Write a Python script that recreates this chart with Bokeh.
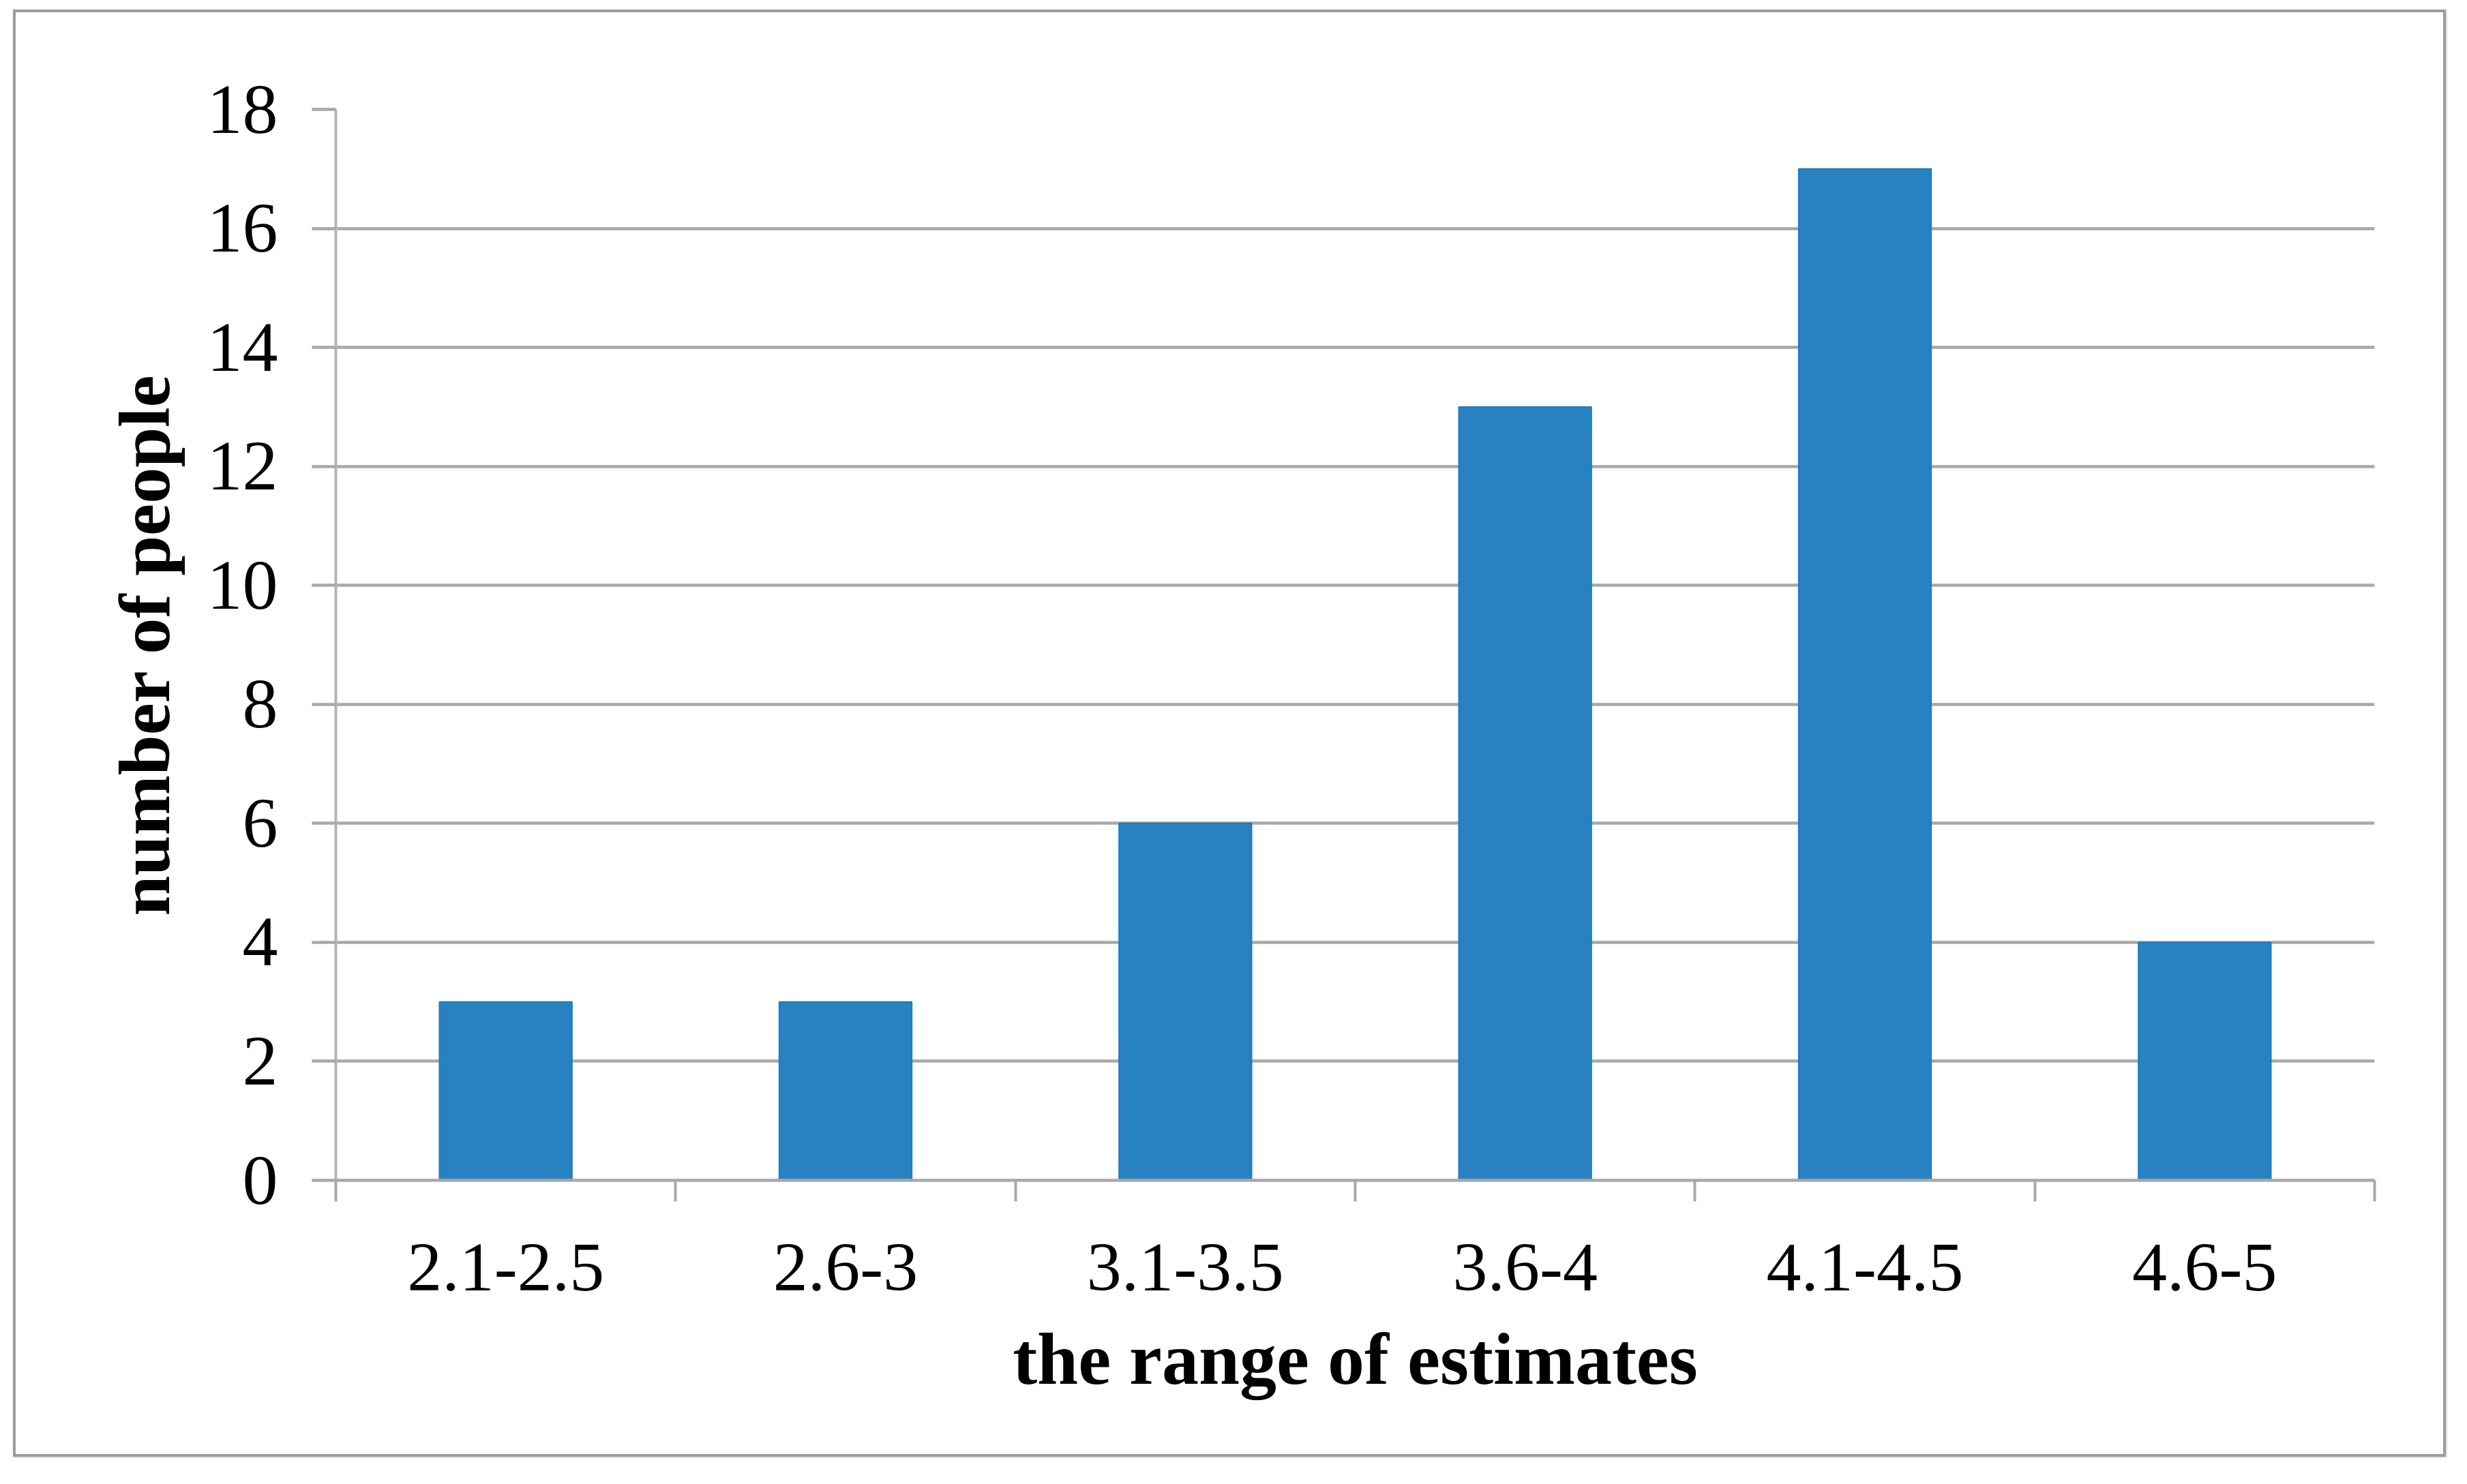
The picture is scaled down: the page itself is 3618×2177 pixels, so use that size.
from bokeh.plotting import figure
from bokeh.models import Range1d, FixedTicker, ColumnDataSource
from bokeh.embed import file_html
from bokeh.resources import INLINE

# ---- data ----
categories = ["2.1-2.5", "2.6-3", "3.1-3.5", "3.6-4", "4.1-4.5", "4.6-5"]
counts = [3, 3, 6, 13, 17, 4]
y_ticks = [0, 2, 4, 6, 8, 10, 12, 14, 16, 18]
x_title = "the range of estimates"
y_title = "number of people"

x_pos = [i + 0.5 for i in range(len(categories))]
source = ColumnDataSource(dict(x=x_pos, top=counts, cat=categories))

FONT = "Liberation Serif"
GRID = "#a8a8a8"

p = figure(width=3568, height=2123, output_backend="svg", toolbar_location=None,
           x_range=Range1d(0, len(categories)), y_range=Range1d(0, y_ticks[-1]),
           min_border_left=469, min_border_right=109,
           min_border_top=142, min_border_bottom=410)
p.margin = (14, 0, 0, 19)
p.styles = {"border": "4px solid #9c9c9c", "box-shadow": "1px 1px 3px #c8c8c8"}
p.outline_line_color = None
p.background_fill_color = "white"
p.border_fill_color = "white"

p.vbar(x="x", top="top", width=0.39, bottom=0, source=source,
       fill_color="#2882c2", line_color="#1f7bbd", line_width=2)

# y axis
p.yaxis.ticker = FixedTicker(ticks=y_ticks)
p.ygrid.ticker = FixedTicker(ticks=y_ticks)
p.ygrid.grid_line_color = GRID
p.ygrid.grid_line_width = 4.5
p.yaxis.axis_line_color = "#b4b4b4"
p.yaxis.axis_line_width = 4
p.yaxis.major_tick_line_color = GRID
p.yaxis.major_tick_line_width = 4.5
p.yaxis.major_tick_out = 35
p.yaxis.major_tick_in = 0
p.yaxis.minor_tick_line_color = None
p.yaxis.major_label_text_font = FONT
p.yaxis.major_label_text_font_size = "104px"
p.yaxis.major_label_text_color = "black"
p.yaxis.major_label_standoff = 50
p.yaxis.axis_label = y_title
p.yaxis.axis_label_text_font = FONT
p.yaxis.axis_label_text_font_style = "bold"
p.yaxis.axis_label_text_font_size = "106px"
p.yaxis.axis_label_text_color = "black"
p.yaxis.axis_label_standoff = 30

# x axis
p.xgrid.visible = False
p.xaxis.ticker = FixedTicker(ticks=x_pos, minor_ticks=list(range(len(categories) + 1)))
p.xaxis.major_label_overrides = {x: c for x, c in zip(x_pos, categories)}
p.xaxis.axis_line_color = GRID
p.xaxis.axis_line_width = 4.5
p.xaxis.major_tick_line_color = None
p.xaxis.major_tick_out = 0
p.xaxis.major_tick_in = 0
p.xaxis.minor_tick_line_color = GRID
p.xaxis.minor_tick_line_width = 4
p.xaxis.minor_tick_out = 31
p.xaxis.minor_tick_in = 0
p.xaxis.major_label_text_font = FONT
p.xaxis.major_label_text_font_size = "102px"
p.xaxis.major_label_text_color = "black"
p.xaxis.major_label_standoff = 63
p.xaxis.axis_label = x_title
p.xaxis.axis_label_text_font = FONT
p.xaxis.axis_label_text_font_style = "bold"
p.xaxis.axis_label_text_font_size = "108px"
p.xaxis.axis_label_text_color = "black"
p.xaxis.axis_label_standoff = 38

open("out.html", "w").write(file_html(p, INLINE))
